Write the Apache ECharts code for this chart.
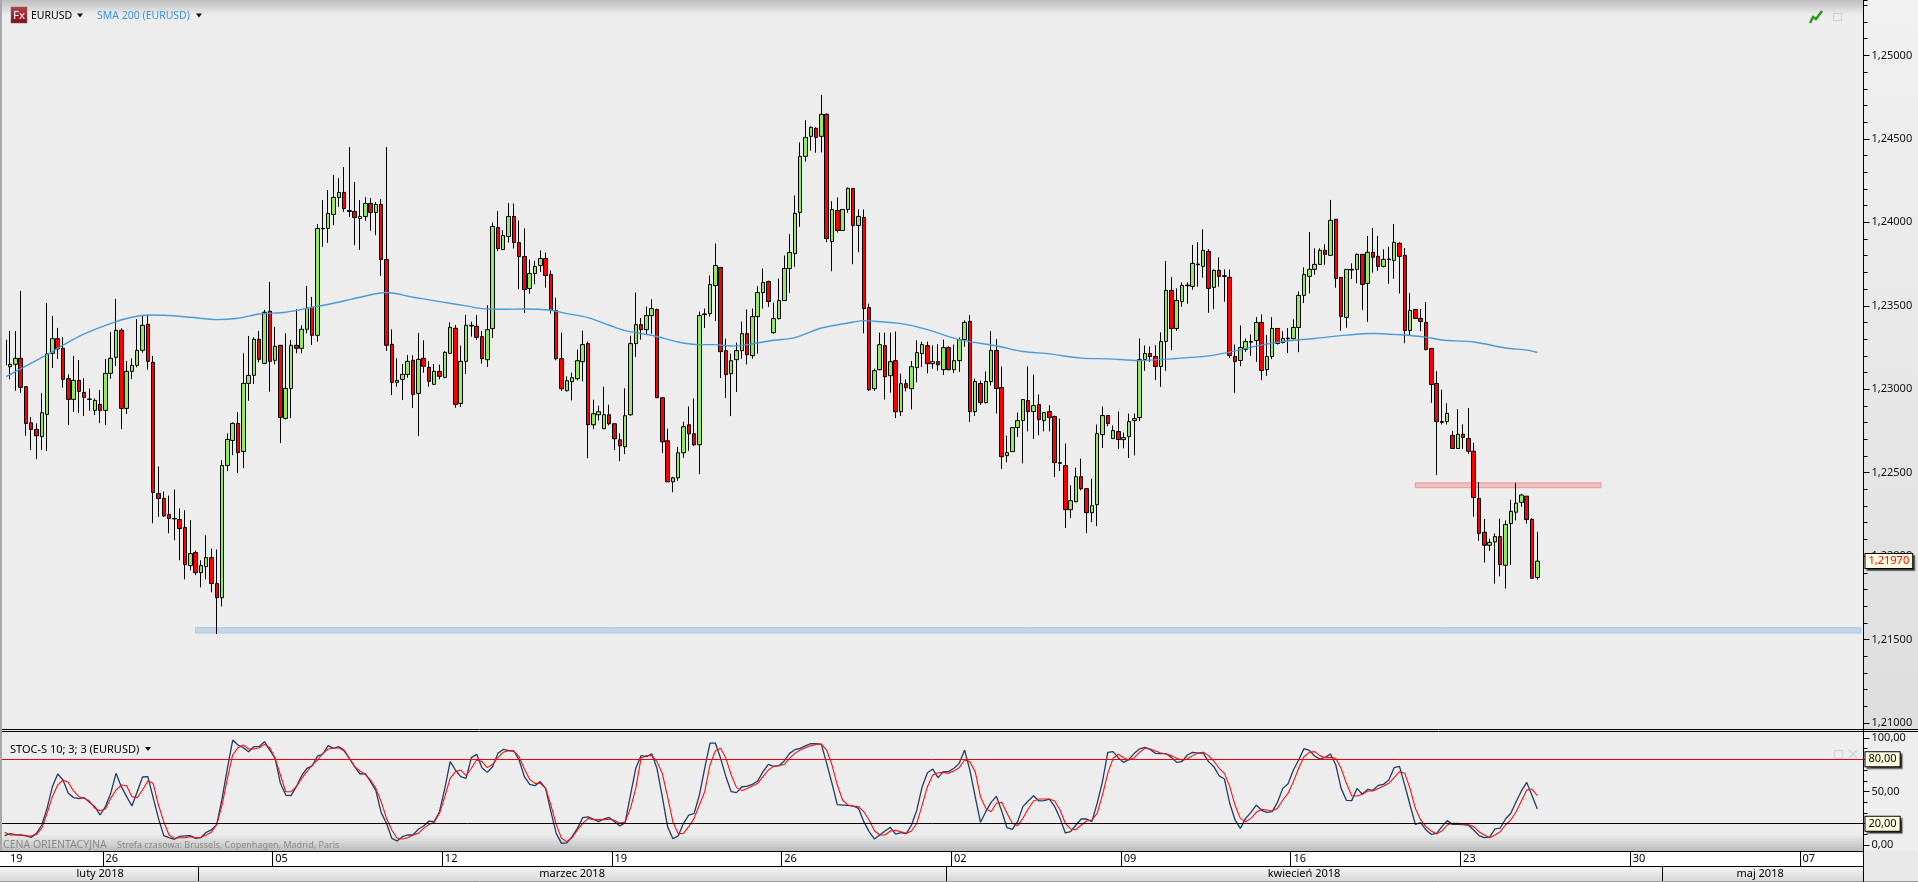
<!DOCTYPE html>
<html><head><meta charset="utf-8"><style>html,body{margin:0;padding:0;background:#ededed;overflow:hidden}#c{width:1918px;height:882px}</style>
<script src="https://cdn.jsdelivr.net/npm/echarts@6/dist/echarts.min.js"></script></head><body><div id="c"></div><script>
const direction=[
"RGGRRRRGGG","RRRGRRRGRG","GGRGGGGRRR","RRRRRGRGGR","RGGGRGGGRG","RGRGGRGGRG","GGGGRRRGGR","GRRRGGGRGR","RGRGGRGGRR",
"RGGRGGRRRG","GGRRRRGGGG","RGGGRRRGGG","RGGRRRGGGR","RGRGGRRGGG","RGGGRGGGGG","GGGRGRGRGG","RGRRGGRGRG","RGGGRGRGRG",
"GGRGRGGRRG","GGGRGRGRRR","RGGRRGGGRG","RGGGGGRRGG","RGGRGRGRGR","RRRGGRGRGG","RGRGGGGGGR","GRRGRGRGRR","GRGRRGRRRR",
"RRGRGRRRRR","GGRGGGGRRG"].join('');
const bodyTop=[
1.23295,1.23149,1.23185,1.23185,1.23015,1.22799,1.22759,1.22859,1.23211,1.23303,
1.23303,1.23245,1.23063,1.23053,1.23053,1.22981,1.22941,1.22933,1.22909,1.23095,
1.23185,1.23353,1.23353,1.23107,1.23143,1.23233,1.23383,1.23389,1.23161,1.22375,
1.22345,1.22249,1.22225,1.22219,1.22171,1.22015,1.22021,1.21943,1.21991,1.21991,
1.21835,1.22543,1.22699,1.22795,1.22795,1.23035,1.23083,1.23299,1.23299,1.23461,
1.23467,1.23257,1.23263,1.23005,1.23263,1.23263,1.23359,1.23485,1.23491,1.23963,
1.23963,1.24053,1.24149,1.24179,1.24179,1.24071,1.24065,1.24035,1.24113,1.24113,
1.24107,1.24107,1.23777,1.23269,1.23053,1.23089,1.23167,1.23173,1.23179,1.23185,
1.23131,1.23107,1.23107,1.23221,1.23371,1.23365,1.23167,1.23383,1.23383,1.23377,
1.23315,1.23357,1.23975,1.23969,1.23921,1.24035,1.24035,1.23879,1.23795,1.23693,
1.23735,1.23783,1.23783,1.23687,1.23471,1.23183,1.23051,1.23069,1.23171,1.23267,
1.23273,1.22853,1.22865,1.22847,1.22847,1.22793,1.22697,1.22841,1.23273,1.23387,
1.23387,1.23441,1.23483,1.23477,1.22949,1.22691,1.22469,1.22619,1.22775,1.22787,
1.22733,1.23441,1.23451,1.23627,1.23741,1.23729,1.23231,1.23171,1.23231,1.23333,
1.23333,1.23435,1.23579,1.23639,1.23645,1.23423,1.23531,1.23723,1.23819,1.24053,
1.24395,1.24509,1.24569,1.24563,1.24647,1.24647,1.24077,1.24071,1.24077,1.24203,
1.24203,1.24035,1.24029,1.23489,1.23111,1.23267,1.23261,1.23165,1.23171,1.23033,
1.23033,1.23135,1.23219,1.23267,1.23261,1.23165,1.23165,1.23249,1.23249,1.23171,
1.23297,1.23400,1.23406,1.23046,1.23034,1.23046,1.23232,1.23232,1.23010,1.22620,
1.22770,1.22812,1.22938,1.22932,1.22902,1.22908,1.22860,1.22866,1.22836,1.22560,
1.22542,1.22332,1.22476,1.22476,1.22404,1.22302,1.22734,1.22842,1.22842,1.22752,
1.22746,1.22710,1.22806,1.22824,1.23178,1.23214,1.23214,1.23196,1.23286,1.23592,
1.23592,1.23532,1.23622,1.23624,1.23754,1.23750,1.23832,1.23826,1.23712,1.23712,
1.23680,1.23670,1.23196,1.23250,1.23286,1.23286,1.23400,1.23400,1.23196,1.23364,
1.23364,1.23304,1.23306,1.23370,1.23562,1.23688,1.23718,1.23748,1.23832,1.23832,
1.24012,1.24018,1.23670,1.23718,1.23718,1.23808,1.23808,1.23820,1.23820,1.23796,
1.23778,1.23780,1.23880,1.23874,1.23802,1.23472,1.23478,1.23424,1.23400,1.23244,
1.23034,1.22806,1.22855,1.22723,1.22730,1.22730,1.22704,1.22628,1.22346,1.22143,
1.22082,1.22117,1.22117,1.22190,1.22268,1.22317,1.22366,1.22359,1.22219,1.21970];
const bodyBottom=[
1.23145,1.23135,1.23149,1.23011,1.22795,1.22759,1.22721,1.22717,1.22849,1.23215,
1.23241,1.23059,1.22939,1.22939,1.22987,1.22951,1.22939,1.22873,1.22873,1.22873,
1.23095,1.23191,1.22885,1.22885,1.23107,1.23143,1.23233,1.23167,1.22381,1.22345,
1.22241,1.22225,1.22223,1.22165,1.21949,1.21943,1.21901,1.21901,1.21937,1.21835,
1.21751,1.21751,1.22543,1.22693,1.22621,1.22627,1.23035,1.23083,1.23179,1.23155,
1.23167,1.23173,1.22831,1.22825,1.23005,1.23245,1.23245,1.23359,1.23323,1.23323,
1.23961,1.23963,1.24047,1.24149,1.24083,1.24065,1.24029,1.24023,1.24035,1.24059,
1.24059,1.23777,1.23263,1.23041,1.23041,1.23059,1.23089,1.22969,1.22975,1.23137,
1.23047,1.23029,1.23077,1.23071,1.23215,1.22909,1.22915,1.23167,1.23379,1.23311,
1.23183,1.23177,1.23363,1.23843,1.23837,1.23915,1.23879,1.23795,1.23597,1.23603,
1.23693,1.23741,1.23681,1.23471,1.23183,1.23003,1.22991,1.23045,1.23063,1.23165,
1.22787,1.22787,1.22847,1.22763,1.22793,1.22703,1.22661,1.22655,1.22847,1.23273,
1.23357,1.23357,1.23441,1.22949,1.22685,1.22445,1.22445,1.22469,1.22619,1.22733,
1.22667,1.22667,1.23447,1.23453,1.23621,1.23225,1.23087,1.23093,1.23177,1.23231,
1.23207,1.23201,1.23435,1.23579,1.23525,1.23339,1.23423,1.23531,1.23723,1.23813,
1.24059,1.24395,1.24515,1.24509,1.24515,1.23903,1.23885,1.23951,1.23951,1.24077,
1.23981,1.23981,1.23483,1.22997,1.23003,1.23117,1.23075,1.23081,1.22865,1.22865,
1.23009,1.23003,1.23129,1.23213,1.23153,1.23153,1.23147,1.23117,1.23117,1.23117,
1.23171,1.23298,1.22866,1.22866,1.22920,1.22920,1.23046,1.23004,1.22596,1.22602,
1.22626,1.22770,1.22812,1.22866,1.22866,1.22818,1.22812,1.22830,1.22560,1.22556,
1.22278,1.22278,1.22326,1.22404,1.22260,1.22260,1.22308,1.22728,1.22794,1.22704,
1.22698,1.22698,1.22716,1.22812,1.22830,1.23178,1.23196,1.23136,1.23136,1.23286,
1.23364,1.23364,1.23526,1.23620,1.23616,1.23746,1.23736,1.23604,1.23610,1.23676,
1.23676,1.23202,1.23166,1.23172,1.23238,1.23282,1.23292,1.23112,1.23118,1.23196,
1.23274,1.23280,1.23302,1.23304,1.23370,1.23562,1.23676,1.23718,1.23748,1.23808,
1.23802,1.23664,1.23436,1.23430,1.23714,1.23718,1.23628,1.23634,1.23790,1.23736,
1.23736,1.23776,1.23772,1.23796,1.23352,1.23352,1.23424,1.23406,1.23238,1.23028,
1.22806,1.22801,1.22806,1.22645,1.22645,1.22711,1.22628,1.22351,1.22136,1.22065,
1.22065,1.22085,1.21950,1.21945,1.22195,1.22263,1.22322,1.22219,1.21867,1.21872];
const wickHigh=[
1.23295,1.23349,1.23349,1.23589,1.23015,1.22833,1.22795,1.22977,1.23517,1.23439,
1.23367,1.23311,1.23089,1.23199,1.23175,1.23065,1.23005,1.22945,1.22995,1.23181,
1.23343,1.23541,1.23365,1.23169,1.23185,1.23421,1.23445,1.23445,1.23199,1.22537,
1.22387,1.22363,1.22399,1.22285,1.22275,1.22215,1.22033,1.21975,1.22125,1.22045,
1.22039,1.22575,1.22735,1.22801,1.22863,1.23215,1.23319,1.23311,1.23349,1.23475,
1.23643,1.23373,1.23265,1.23335,1.23295,1.23479,1.23383,1.23619,1.23553,1.23989,
1.24133,1.24193,1.24283,1.24265,1.24331,1.24451,1.24241,1.24133,1.24151,1.24145,
1.24121,1.24139,1.24451,1.23359,1.23185,1.23151,1.23205,1.23203,1.23337,1.23293,
1.23167,1.23151,1.23147,1.23227,1.23401,1.23385,1.23261,1.23445,1.23405,1.23445,
1.23349,1.23503,1.23999,1.24067,1.23953,1.24115,1.24113,1.24011,1.23963,1.23777,
1.23769,1.23831,1.23819,1.23711,1.23549,1.23339,1.23077,1.23099,1.23237,1.23351,
1.23285,1.22937,1.22901,1.23015,1.22907,1.22793,1.22735,1.23005,1.23321,1.23579,
1.23427,1.23495,1.23539,1.23483,1.22949,1.22763,1.22475,1.22655,1.22805,1.22897,
1.22945,1.23465,1.23483,1.23681,1.23873,1.23733,1.23303,1.23213,1.23279,1.23405,
1.23477,1.23483,1.23617,1.23723,1.23651,1.23519,1.23663,1.23801,1.23929,1.24161,
1.24479,1.24611,1.24575,1.24569,1.24763,1.24653,1.24127,1.24149,1.24077,1.24209,
1.24203,1.24077,1.24077,1.23513,1.23123,1.23339,1.23339,1.23339,1.23345,1.23093,
1.23059,1.23169,1.23293,1.23285,1.23285,1.23263,1.23269,1.23297,1.23257,1.23267,
1.23310,1.23412,1.23444,1.23064,1.23052,1.23106,1.23348,1.23300,1.23136,1.22722,
1.22770,1.22860,1.22938,1.23136,1.23088,1.22968,1.22860,1.22904,1.22842,1.22824,
1.22674,1.22424,1.22530,1.22584,1.22404,1.22464,1.22788,1.22896,1.22844,1.22782,
1.22866,1.22740,1.22854,1.22854,1.23304,1.23262,1.23256,1.23264,1.23340,1.23768,
1.23672,1.23604,1.23640,1.23640,1.23864,1.23880,1.23958,1.23838,1.23718,1.23790,
1.23718,1.23718,1.23268,1.23382,1.23304,1.23328,1.23432,1.23448,1.23324,1.23432,
1.23364,1.23348,1.23366,1.23418,1.23586,1.23730,1.23942,1.23844,1.23844,1.23868,
1.24134,1.24018,1.23670,1.23718,1.23754,1.23814,1.23808,1.23918,1.23966,1.23918,
1.23838,1.23854,1.23990,1.23880,1.23846,1.23576,1.23478,1.23480,1.23522,1.23244,
1.23108,1.22997,1.22916,1.22750,1.22880,1.22789,1.22887,1.22679,1.22444,1.22222,
1.22104,1.22136,1.22224,1.22214,1.22337,1.22439,1.22373,1.22359,1.22227,1.22146];
const wickLow=[
1.23145,1.23061,1.22991,1.22979,1.22721,1.22635,1.22581,1.22635,1.22629,1.23127,
1.23181,1.23009,1.22785,1.22863,1.22857,1.22839,1.22871,1.22845,1.22797,1.22785,
1.23063,1.23139,1.22761,1.22851,1.23061,1.23131,1.23219,1.23117,1.22197,1.22235,
1.22235,1.22137,1.22095,1.21975,1.21861,1.21915,1.21885,1.21813,1.21861,1.21783,
1.21533,1.21699,1.22509,1.22605,1.22497,1.22527,1.22931,1.23031,1.23161,1.23153,
1.22985,1.23149,1.22677,1.22819,1.22827,1.23215,1.23215,1.23335,1.23265,1.23285,
1.23853,1.23877,1.23983,1.24093,1.24063,1.24033,1.23863,1.23835,1.24009,1.23949,
1.23923,1.23679,1.23229,1.22965,1.23015,1.22935,1.23069,1.22887,1.22719,1.23099,
1.23015,1.23025,1.23059,1.23065,1.23211,1.22889,1.22893,1.23091,1.23315,1.23295,
1.23153,1.23133,1.23307,1.23827,1.23833,1.23879,1.23843,1.23599,1.23457,1.23573,
1.23629,1.23703,1.23609,1.23453,1.23173,1.22989,1.22987,1.22933,1.23053,1.23047,
1.22587,1.22761,1.22813,1.22761,1.22783,1.22635,1.22569,1.22611,1.22841,1.23193,
1.23297,1.23327,1.23333,1.22949,1.22617,1.22445,1.22383,1.22451,1.22589,1.22631,
1.22661,1.22491,1.23367,1.23435,1.23409,1.23067,1.22947,1.22839,1.22983,1.23183,
1.23149,1.23183,1.23213,1.23483,1.23493,1.23333,1.23417,1.23529,1.23577,1.23733,
1.23973,1.24363,1.24429,1.24417,1.24419,1.23881,1.23707,1.23939,1.23951,1.24057,
1.23749,1.23821,1.23335,1.22989,1.22989,1.23113,1.22939,1.22979,1.22827,1.22839,
1.22987,1.22879,1.23041,1.23133,1.23095,1.23123,1.23111,1.23085,1.23113,1.23097,
1.23104,1.23254,1.22804,1.22840,1.22906,1.22914,1.23022,1.22854,1.22522,1.22562,
1.22624,1.22714,1.22556,1.22748,1.22702,1.22724,1.22748,1.22748,1.22474,1.22510,
1.22168,1.22228,1.22322,1.22394,1.22138,1.22204,1.22180,1.22648,1.22778,1.22704,
1.22642,1.22646,1.22588,1.22604,1.22810,1.23110,1.23164,1.23054,1.23014,1.23110,
1.23234,1.23350,1.23494,1.23512,1.23596,1.23614,1.23668,1.23458,1.23480,1.23614,
1.23524,1.23188,1.22978,1.23138,1.23224,1.23200,1.23164,1.23054,1.23080,1.23180,
1.23268,1.23274,1.23216,1.23298,1.23222,1.23516,1.23574,1.23686,1.23746,1.23746,
1.23802,1.23608,1.23350,1.23368,1.23660,1.23634,1.23474,1.23404,1.23698,1.23710,
1.23730,1.23632,1.23662,1.23574,1.23276,1.23322,1.23424,1.23348,1.23232,1.22918,
1.22486,1.22789,1.22789,1.22645,1.22645,1.22642,1.22613,1.22236,1.22092,1.21962,
1.22031,1.21835,1.21879,1.21806,1.21948,1.22214,1.22295,1.22195,1.21867,1.21860];
const smaSlots=[0,8,10,15,21,24,27,30,35,40,44,48,53,58,62,67,72,77,82,87,90,94,98,103,106,110,114,117,122,127,131,134,137,140,145,149,154,159,162,164,169,174,180,187,192,197,203,208,214,220,227,231,236,241,247,253,258,263,268,271,277,283,287,289];
const smaValues=[1.23071,1.23207,1.23245,1.23331,1.23405,1.23431,1.23445,1.23443,1.23431,1.23417,1.23425,1.23451,1.23461,1.23491,1.23515,1.23551,1.23579,1.23551,1.23525,1.23499,1.23483,1.23479,1.23481,1.23473,1.23453,1.23429,1.23383,1.23351,1.23323,1.23283,1.23267,1.23267,1.23259,1.23267,1.23293,1.23309,1.23367,1.23397,1.23411,1.23407,1.23393,1.23357,1.23297,1.23260,1.23226,1.23212,1.23186,1.23182,1.23172,1.23182,1.23200,1.23222,1.23258,1.23286,1.23304,1.23324,1.23334,1.23326,1.23312,1.23295,1.23283,1.23247,1.23234,1.23220];
const stochK=[
8.9,10.7,9.8,9.5,8.9,7.3,11.0,18.8,34.3,54.5,66.3,60.7,48.3,44.3,43.3,44.3,39.9,35.9,28.1,35.9,
48.3,66.9,54.5,45.2,36.5,49.8,63.5,63.8,44.3,25.0,8.9,7.0,5.5,8.3,8.6,8.9,6.4,7.0,12.0,14.2,
19.4,43.6,71.6,97.9,93.3,90.8,87.1,91.7,92.0,96.4,88.6,80.9,57.6,46.7,46.1,54.5,64.7,71.6,74.0,83.0,
84.9,92.7,90.2,91.7,88.6,80.9,73.1,66.3,66.6,59.2,50.8,30.3,20.4,6.4,3.9,7.9,9.5,9.5,14.8,17.9,
22.5,21.9,31.2,52.9,77.8,70.0,63.8,62.2,81.5,84.6,72.2,67.8,73.1,85.5,89.2,88.3,87.7,79.3,63.8,56.7,
55.4,59.2,52.9,31.2,11.0,1.7,2.1,7.9,15.7,25.6,26.3,24.4,21.9,24.4,25.9,21.9,17.9,21.0,46.7,71.6,
83.4,82.4,85.2,71.6,45.2,17.3,6.1,8.6,20.4,28.1,29.4,46.7,71.6,95.1,95.1,80.9,63.8,49.8,48.9,54.2,
55.1,56.7,59.8,68.5,75.3,73.4,74.0,78.4,85.5,88.9,90.2,92.4,94.5,94.5,93.9,76.2,57.6,37.7,37.4,37.1,
36.5,34.3,21.9,12.6,5.8,9.5,13.2,16.6,10.4,11.7,10.7,18.8,32.8,54.5,67.5,70.9,62.9,68.5,68.5,71.6,
76.2,88.6,70.0,45.2,21.3,31.2,39.9,45.5,31.8,16.3,14.8,21.9,35.9,41.2,46.1,41.2,41.5,43.0,35.9,25.0,
11.4,12.6,18.8,24.4,24.4,21.9,39.0,59.2,86.5,87.1,81.5,77.1,79.9,85.5,89.6,91.1,89.2,85.5,85.2,85.2,
81.8,77.1,77.8,84.0,86.5,85.8,85.8,77.8,73.1,64.7,61.6,39.0,23.5,15.7,25.0,30.6,37.4,32.5,30.6,31.2,
39.9,52.9,57.3,70.0,79.3,89.9,88.3,83.0,80.2,81.8,84.9,74.7,52.9,41.8,41.5,52.9,47.4,52.0,51.1,55.7,
56.7,60.7,72.2,73.4,56.0,37.4,19.4,21.0,14.2,10.1,11.0,17.3,22.9,19.4,19.4,19.1,18.8,14.2,8.9,7.0,
7.6,15.1,16.0,24.4,29.7,40.5,50.5,58.5,46.1,33.7];
const stochD=[
12.0,9.5,9.8,9.5,8.6,8.6,10.1,15.7,29.7,45.2,56.0,60.7,58.5,50.5,45.2,43.6,41.2,34.3,32.1,33.7,
43.6,51.4,56.0,55.4,45.2,44.3,51.4,59.8,57.6,37.4,21.9,9.5,6.4,7.0,7.0,7.9,7.0,7.3,9.5,12.0,
19.4,37.4,62.2,84.0,90.8,93.3,89.6,89.6,90.8,93.9,90.8,80.9,65.4,49.8,49.8,54.5,62.2,68.5,74.7,79.3,
85.5,89.6,90.2,90.8,87.7,80.9,73.1,69.1,66.0,60.7,52.9,40.5,25.0,14.2,6.4,5.8,7.0,9.5,11.0,15.7,
19.4,21.3,29.7,45.2,62.2,68.5,70.0,64.7,71.6,79.3,77.8,72.2,75.3,81.5,86.5,88.0,87.7,82.4,70.9,61.3,
57.6,57.6,52.9,37.4,19.4,6.4,3.3,7.0,14.2,20.4,25.0,23.8,23.8,23.8,24.1,23.2,20.4,21.9,34.3,52.9,
80.9,83.4,83.4,77.8,66.9,45.2,21.9,10.7,11.0,17.3,25.0,37.4,49.8,74.7,87.7,90.2,80.9,65.4,53.6,50.8,
52.9,55.1,57.6,63.8,70.0,73.4,74.0,75.3,80.9,85.5,88.6,90.8,92.7,93.9,94.2,88.6,74.7,56.0,42.1,37.4,
36.5,35.9,31.2,23.5,13.5,9.5,9.5,13.2,13.8,12.6,11.0,13.2,20.4,37.4,54.5,65.4,67.5,67.8,66.9,69.1,
72.2,79.3,77.8,68.5,45.2,34.3,31.2,39.0,39.9,29.7,20.4,18.2,25.0,33.7,41.2,43.0,43.0,43.0,41.2,32.8,
20.4,15.1,14.5,18.8,22.5,23.5,29.7,46.7,66.9,80.9,84.6,81.5,79.3,81.5,86.5,90.2,89.6,87.7,85.8,84.9,
83.4,80.9,79.0,80.2,83.4,85.8,86.5,83.4,78.4,71.6,66.9,54.5,37.4,25.0,21.9,25.0,30.6,33.4,32.8,31.8,
34.3,42.1,48.3,59.2,71.6,82.4,86.5,87.1,83.4,81.5,81.8,80.9,71.6,57.6,46.1,45.8,47.4,50.5,50.5,52.9,
55.1,57.6,62.9,68.5,66.9,52.9,34.3,23.5,17.3,13.2,10.7,13.2,18.8,20.4,20.4,19.4,19.1,17.3,12.6,9.5,
7.0,9.5,12.6,18.8,23.5,31.2,41.2,51.4,52.3,46.1];
const slotCount=351;
const weekSlots=[1,19,51,83,115,147,179,211,243,275,307,339];
const weekNames=['19','26','05','12','19','26','02','09','16','23','30','07'];
const monthSlots=[18,107,245,331];
const monthNames=['luty 2018','marzec 2018','kwiecień 2018','maj 2018'];
const monthTickSlots=[37,178,313];
const lastPrice=1.21970;

const candles=direction.split('').map((d,i)=>d==='G'
  ?[bodyBottom[i],bodyTop[i],wickLow[i],wickHigh[i]]
  :[bodyTop[i],bodyBottom[i],wickLow[i],wickHigh[i]]);
const sma=smaSlots.map((s,i)=>[s,smaValues[i]]);
const weekCats=Array.from({length:slotCount},(_,i)=>{const k=weekSlots.indexOf(i);return k<0?'':weekNames[k]});
const monthCats=Array.from({length:slotCount},(_,i)=>{const k=monthSlots.indexOf(i);return k<0?'':monthNames[k]});
const blank=Array.from({length:slotCount},()=>'');

const font='"Noto Sans",Roboto,sans-serif';
const L=2,W=1861.5;
const tag=(color,text)=>({show:true,position:'end',distance:2,formatter:text,color,fontFamily:font,fontSize:11,
  backgroundColor:'#ffffe1',borderColor:'#000',borderWidth:1,padding:[2,3,1,3],shadowColor:'rgba(0,0,0,.55)',shadowOffsetX:2,shadowOffsetY:2,shadowBlur:1});
const commaFmt=d=>v=>v.toFixed(d).replace('.',',');
const grad=(a,b)=>({type:'linear',x:0,y:0,x2:0,y2:1,colorStops:[{offset:0,color:a},{offset:1,color:b}]});
const rect=(x,y,w,h,fill,z)=>({type:'rect',silent:true,z:z===undefined?-10:z,shape:{x,y,width:w,height:h},style:{fill}});
const hline=(x1,x2,y,stroke,z)=>({type:'line',silent:true,z:z===undefined?90:z,shape:{x1,y1:y,x2,y2:y},style:{stroke,lineWidth:1}});
const vline=(x,y1,y2,stroke)=>({type:'line',silent:true,z:90,shape:{x1:x,y1,x2:x,y2},style:{stroke,lineWidth:1}});
const txt=(x,y,text,fill,size)=>({type:'text',silent:true,z:95,x,y,style:{text,fill,font:`${size}px ${font}`,textVerticalAlign:'middle'}});
const tri=(x,y)=>({type:'polygon',silent:true,z:95,shape:{points:[[x,y],[x+6,y],[x+3,y+4]]},style:{fill:'#111'}});

const graphicEls=[
 rect(0,0,1864,15,grad('#bdbdbd','#ededed')),
 rect(1864,0,54,729,grad('#f1f1f1','#dedede')),
 rect(1864,732,54,119,'#eeeeee'),
 rect(2,834,1861,17,grad('#ededed','#bcbcbc')),
 rect(0,851,1864,15,'#ffffff'),
 rect(0,867,1864,15,grad('#f4f4f4','#d6d6d6')),
 rect(1864,851,54,31,'#e9e9e9'),
 rect(0,0,2,851,'#a8a8a8',92),
 rect(2,15,4,714,'#ededed',60),
 hline(0,1918,729.5,'#000'),hline(0,1918,731.5,'#000'),
 hline(0,1864,851.5,'#000'),hline(0,1864,866.5,'#000'),hline(0,1918,881.5,'#999'),
 vline(1863.5,0,882,'#000'),
 {type:'rect',silent:true,z:94,shape:{x:11,y:7,width:16,height:16},style:{fill:grad('#b8404c','#8a0a14'),stroke:'#666',lineWidth:.5}},
 txt(13,15.5,'Fx','#fff',11.5),
 txt(31,16,'EURUSD','#000',10.5),tri(77,13.5),
 txt(97,16,'SMA 200 (EURUSD)','#3d92dc',10.5),tri(196,13.5),
 txt(10,749.5,'STOC-S 10; 3; 3 (EURUSD)','#000',11),tri(145,747),
 txt(3,845.5,'CENA ORIENTACYJNA','#8a8a8a',10.5),
 txt(117,845.5,'Strefa czasowa: Brussels, Copenhagen, Madrid, Paris','#8a8a8a',9),
 {type:'polyline',silent:true,z:95,shape:{points:[[1810,23],[1813,17],[1816,19],[1822,11]]},style:{stroke:'#2c9a1c',lineWidth:2.5,fill:'none'}},
 {type:'rect',silent:true,z:95,shape:{x:1833.5,y:13.5,width:8,height:7},style:{fill:'none',stroke:'#c9d3de',lineWidth:1}},
 {type:'rect',silent:true,z:95,shape:{x:1834.5,y:750.5,width:8,height:8},style:{fill:'none',stroke:'#c9d3de',lineWidth:1}},
 {type:'polyline',silent:true,z:95,shape:{points:[[1849,750],[1857,758]]},style:{stroke:'#c9d3de',lineWidth:1.5,fill:'none'}},
 {type:'polyline',silent:true,z:95,shape:{points:[[1857,750],[1849,758]]},style:{stroke:'#c9d3de',lineWidth:1.5,fill:'none'}}
];

const chart=echarts.init(document.getElementById('c'),null,{renderer:'canvas'});
chart.setOption({
 animation:false,backgroundColor:'#ededed',
 graphic:{elements:graphicEls},
 grid:[
  {left:L,width:W,top:0,height:723},
  {left:L,width:W,top:737.8,height:107.4},
  {left:L,width:W,top:846,height:5},
  {left:L,width:W,top:861,height:5}
 ],
 xAxis:[
  {gridIndex:0,type:'category',data:blank,show:false},
  {gridIndex:1,type:'category',data:blank,show:false},
  {gridIndex:2,type:'category',data:weekCats,axisLine:{show:false},
   axisTick:{show:true,length:15,interval:i=>weekSlots.includes(i)&&i!==1,lineStyle:{color:'#000'}},
   axisLabel:{interval:i=>weekSlots.includes(i),align:'left',margin:2,color:'#000',fontFamily:font,fontSize:11}},
  {gridIndex:3,type:'category',data:monthCats,axisLine:{show:false},
   axisTick:{show:true,length:15,interval:i=>monthTickSlots.includes(i),lineStyle:{color:'#000'}},
   axisLabel:{interval:i=>monthSlots.includes(i),align:'center',margin:2,color:'#000',fontFamily:font,fontSize:11}}
 ],
 yAxis:[
  {gridIndex:0,type:'value',position:'right',min:1.21,max:1.25332,interval:0.005,splitLine:{show:false},axisLine:{show:false},
   axisTick:{show:true,length:6,lineStyle:{color:'#000'}},
   axisLabel:{margin:8,color:'#111',fontFamily:font,fontSize:11,showMaxLabel:false,formatter:commaFmt(5)}},
  {gridIndex:0,type:'value',position:'right',min:1.21,max:1.25332,interval:0.001,splitLine:{show:false},axisLine:{show:false},
   axisTick:{show:true,length:4,lineStyle:{color:'#000'}},axisLabel:{show:false}},
  {gridIndex:1,type:'value',position:'right',min:0,max:100,interval:50,splitLine:{show:false},axisLine:{show:false},
   axisTick:{show:true,length:6,lineStyle:{color:'#000'}},minorTick:{show:true,splitNumber:5,length:4,lineStyle:{color:'#000'}},
   axisLabel:{margin:8,color:'#111',fontFamily:font,fontSize:11,formatter:commaFmt(2)}},
  {gridIndex:2,type:'value',show:false,min:0,max:1},
  {gridIndex:3,type:'value',show:false,min:0,max:1}
 ],
 series:[
  {type:'candlestick',name:'EURUSD',xAxisIndex:0,yAxisIndex:0,data:candles,barWidth:4,silent:true,z:3,
   itemStyle:{color:'#94ea5c',color0:'#ff0000',borderColor:'#000',borderColor0:'#000',borderWidth:1},
   markLine:{silent:true,symbol:'none',animation:false,precision:5,data:[{yAxis:lastPrice,lineStyle:{color:'rgba(0,0,0,0)',width:1,type:'solid'},label:tag('#ff0000',commaFmt(5)(lastPrice))}]},
   markArea:{silent:true,animation:false,data:[
     [{xAxis:36,yAxis:1.21571,itemStyle:{color:'rgba(140,185,228,.42)',borderColor:'#a6c8e8',borderWidth:1}},{xAxis:350,yAxis:1.21539}],
     [{xAxis:266,yAxis:1.22439,itemStyle:{color:'rgba(240,130,130,.42)',borderColor:'#ea9a9a',borderWidth:1}},{xAxis:301,yAxis:1.22410}]
   ]}},
  {type:'line',name:'SMA 200',xAxisIndex:0,yAxisIndex:0,data:sma,symbol:'none',smooth:0.3,silent:true,z:4,
   lineStyle:{color:'#4a9ad8',width:1.4}},
  {type:'line',name:'%K',xAxisIndex:1,yAxisIndex:2,data:stochK,symbol:'none',silent:true,z:4,
   lineStyle:{color:'#1f3d66',width:1.3},
   markLine:{silent:true,symbol:'none',animation:false,precision:2,data:[
     {yAxis:80,lineStyle:{color:'#ee0000',width:1,type:'solid'},label:tag('#000','80,00')},
     {yAxis:20,lineStyle:{color:'#000',width:1,type:'solid'},label:tag('#000','20,00')}
   ]}},
  {type:'line',name:'%D',xAxisIndex:1,yAxisIndex:2,data:stochD,symbol:'none',silent:true,z:4,
   lineStyle:{color:'#f01414',width:1.1}}
 ]
});
</script></body></html>
